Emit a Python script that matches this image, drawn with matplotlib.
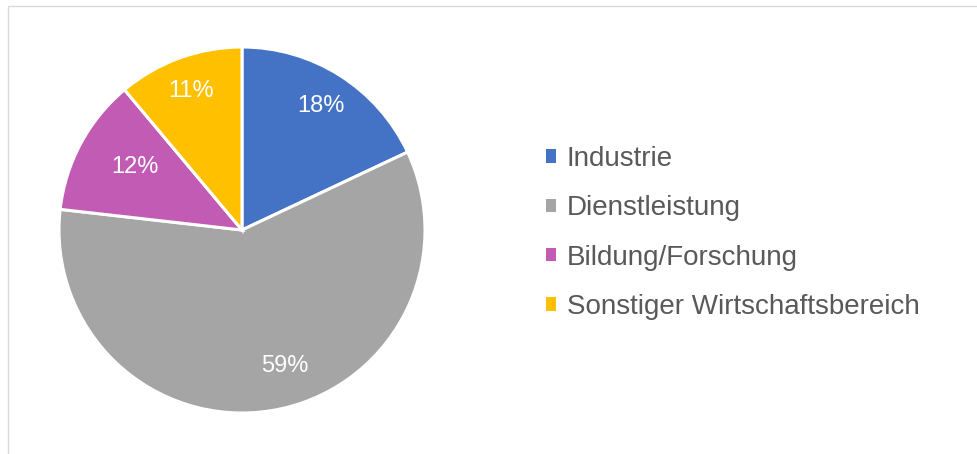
import matplotlib
matplotlib.use("Agg")
import numpy as np
import matplotlib.pyplot as plt
from matplotlib.patches import Patch, Rectangle

plt.rcParams["font.family"] = ["Liberation Sans", "DejaVu Sans"]

# data
categories = ["Industrie", "Dienstleistung", "Bildung/Forschung", "Sonstiger Wirtschaftsbereich"]
shares = [18.0, 58.8, 12.1, 11.1]
colors = ["#4472C4", "#A5A5A5", "#C15BB4", "#FFC000"]
# label placement inside each wedge (fraction of radius, angle offset in degrees)
label_r = [0.80, 0.78, 0.68, 0.81]
label_dang = [0, 8, -2, 0]

W, H = 977, 454
fig = plt.figure(figsize=(W / 100, H / 100), dpi=100)
fig.patch.set_facecolor("white")

# chart area border (only top/left visible in the crop)
fig.patches.append(Rectangle((7.5 / W, -0.1), 1.2, 1 - 5.5 / H + 0.1,
                             transform=fig.transFigure, fill=False,
                             edgecolor="#D9D9D9", linewidth=1.0))

cx, cy, r = 242, 230, 183
ax = fig.add_axes([(cx - r) / W, (H - cy - r) / H, 2 * r / W, 2 * r / H])
wedges, texts, autotexts = ax.pie(
    shares, colors=colors, startangle=90, counterclock=False,
    autopct="%.0f%%", pctdistance=0.78,
    wedgeprops=dict(edgecolor="white", linewidth=2.2),
    textprops=dict(color="white", fontsize=17))
for w, t, rr, da in zip(wedges, autotexts, label_r, label_dang):
    ang = np.deg2rad((w.theta1 + w.theta2) / 2 + da)
    t.set_position((rr * np.cos(ang), rr * np.sin(ang)))
ax.set_xlim(-1, 1)
ax.set_ylim(-1, 1)
ax.set_aspect("equal")

handles = [Patch(facecolor=c, edgecolor="none") for c in colors]
fig.legend(handles, categories, loc="center left",
           bbox_to_anchor=(546 / W, 1 - 233 / H), frameon=False,
           fontsize=20, labelcolor="#595959",
           handlelength=0.35, handleheight=0.35, handletextpad=0.4,
           labelspacing=0.84, borderpad=0, borderaxespad=0)

fig.savefig("out.png", dpi=100)
